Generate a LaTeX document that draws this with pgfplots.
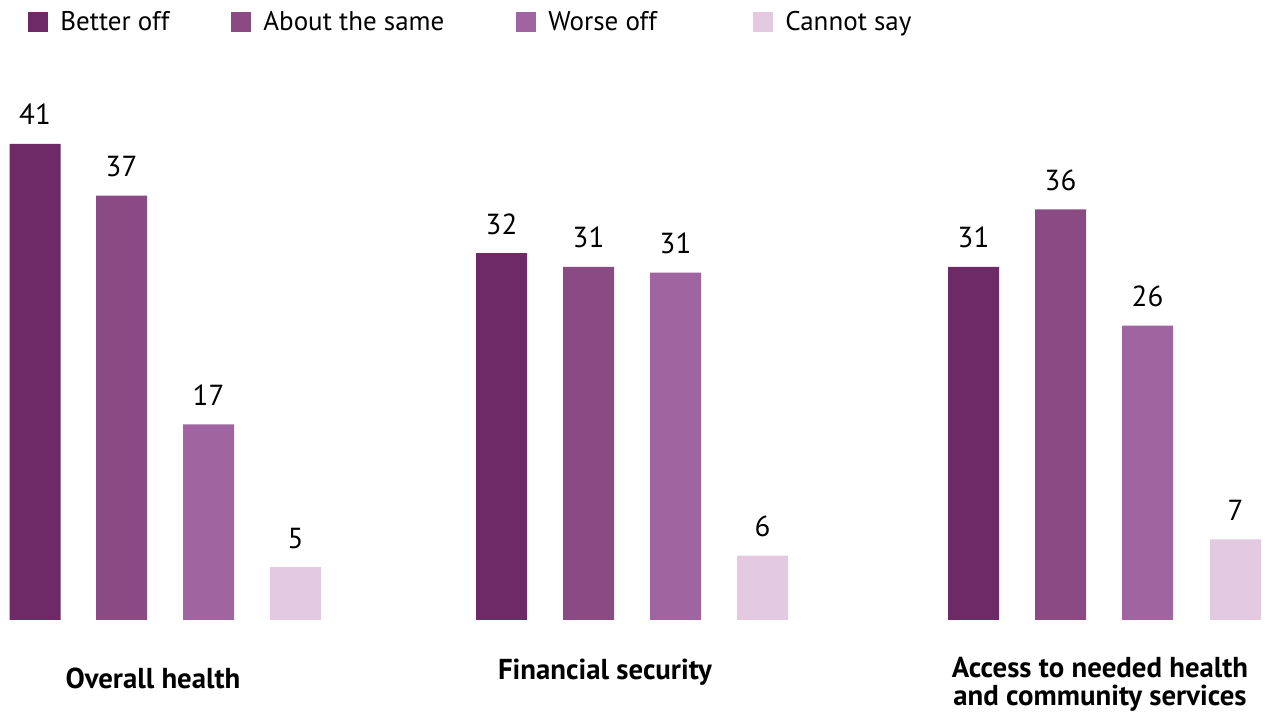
\documentclass[border=0pt]{standalone}
\usepackage{pgfplots}
\pgfplotsset{compat=1.18}
\usepackage{fontspec}
\setmainfont{PT Sans}
\definecolor{c1}{HTML}{6E2967}
\definecolor{c2}{HTML}{8A4B85}
\definecolor{c3}{HTML}{A064A0}
\definecolor{c4}{HTML}{E4CAE1}
\begin{document}
\begin{tikzpicture}
\begin{axis}[
  scale only axis,
  width=633bp, height=356.5bp,
  xmin=0, xmax=1266,
  ymin=-8.087, ymax=53.913,
  hide axis,
  clip=false,
  point meta=explicit symbolic,
  nodes near coords,
  nodes near coords style={anchor=base, yshift=9.5bp, font=\fontsize{14.5bp}{16bp}\selectfont, text=black},
  legend columns=4,
  legend style={draw=none, fill=none, at={(axis cs:28,52.0)}, anchor=west, inner sep=0pt,
    nodes={inner sep=0pt}, font=\fontsize{13.5bp}{15bp}\selectfont,
    /tikz/every odd column/.style={column sep=6bp},
    cells={anchor=west}},
  legend image code/.code={\fill[#1] (0bp,-5bp) rectangle (10bp,5bp);},
]
\addplot[ybar, bar width=25.5bp, bar shift=0pt, fill=c1, draw=none] coordinates {(35,41.4) [41] (501.5,31.9) [32] (973.5,30.7) [31]};
\addlegendentry{\makebox[85.5bp][l]{Better off}}
\addplot[ybar, bar width=25.5bp, bar shift=0pt, fill=c2, draw=none] coordinates {(121.5,36.9) [37] (588.5,30.7) [31] (1060.5,35.7) [36]};
\addlegendentry{\makebox[126.5bp][l]{About the same}}
\addplot[ybar, bar width=25.5bp, bar shift=0pt, fill=c3, draw=none] coordinates {(208.5,17.0) [17] (675.5,30.2) [31] (1147.5,25.6) [26]};
\addlegendentry{\makebox[102.5bp][l]{Worse off}}
\addplot[ybar, bar width=25.5bp, bar shift=0pt, fill=c4, draw=none] coordinates {(295.5,4.6) [5] (762.5,5.6) [6] (1235.5,7.0) [7]};
\addlegendentry{Cannot say}
\path (rel axis cs:0,0) rectangle (rel axis cs:1,1);
\node[font=\bfseries\fontsize{14.4bp}{14bp}\selectfont, align=center] at (axis cs:153,-5.04) {Overall health};
\node[font=\bfseries\fontsize{14.4bp}{14bp}\selectfont, align=center] at (axis cs:605,-4.52) {Financial security};
\node[font=\bfseries\fontsize{14.4bp}{14bp}\selectfont, align=center] at (axis cs:1100,-5.57) {Access to needed health\\and community services};
\end{axis}
\end{tikzpicture}
\end{document}
